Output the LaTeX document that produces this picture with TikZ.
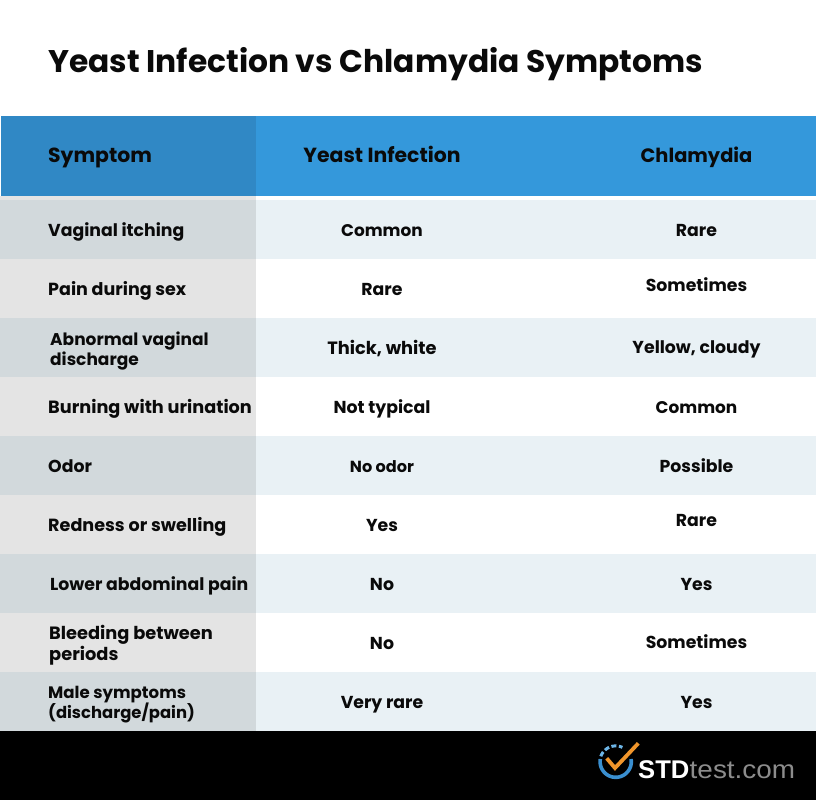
\documentclass[tikz,border=0pt]{standalone}
\usepackage{fontspec}
\setmainfont{Poppins}
\newfontfamily\logofont{Liberation Sans}
\definecolor{hdrA}{HTML}{3498DB}
\definecolor{hdrB}{HTML}{3088C5}
\definecolor{rowA}{HTML}{E9F1F5}
\definecolor{leftA}{HTML}{D2D9DC}
\definecolor{leftB}{HTML}{E4E4E4}
\definecolor{inkc}{HTML}{0A0A0A}
\definecolor{logoB}{HTML}{3A8FD0}
\definecolor{logoL}{HTML}{6DB5E6}
\definecolor{logoO}{HTML}{F0952B}
\newcommand{\sz}[1]{\fontsize{#1}{20}\selectfont\bfseries}
\tikzset{
 x=1pt,y=-1pt,
 cell/.style={font=\sz{17.3},text=inkc,inner sep=0pt},
 lab/.style={cell,anchor=base west,align=left},
 val/.style={cell,anchor=base,align=center},
 head/.style={font=\sz{20.4},text=inkc,inner sep=0pt,anchor=base}
}
\begin{document}
\begin{tikzpicture}
\useasboundingbox (0,0) rectangle (816,800);
\fill[white] (0,0) rectangle (816,800);
\node[anchor=base west,inner sep=0pt,text=inkc,font=\sz{31.3}] (title) at (48,72) {Yeast Infection vs Chlamydia Symptoms};
% header
\fill[hdrA] (1,116) rectangle (816,196);
\fill[hdrB] (1,116) rectangle (256,196);
\fill[leftB] (0,196) rectangle (256,200);
% rows
\foreach \t/\c/\l in {200/rowA/leftA,318/rowA/leftA,436/rowA/leftA,554/rowA/leftA,672/rowA/leftA}{
 \pgfmathsetmacro\b{\t+59}
 \fill[\c] (256,\t) rectangle (816,\b);
 \fill[\l] (0,\t) rectangle (256,\b);
}
\foreach \t in {259,377,495,613}{
 \pgfmathsetmacro\b{\t+59}
 \fill[leftB] (0,\t) rectangle (256,\b);
}
\fill[black] (0,731) rectangle (816,800);
% headers
\node[head,anchor=base west] (h1) at (48,162) {Symptom};
\node[head] (h2) at (382,162) {Yeast Infection};
\node[head,font=\sz{19.4}] (h3) at (696.5,162) {Chlamydia};
% labels
\node[lab] (a1) at (48,236) {Vaginal itching};
\node[lab,font=\sz{17.5}] (a2) at (48,295) {Pain during sex};
\node[lab,font=\sz{17.0}] (a3a) at (50,345) {Abnormal vaginal};
\node[lab,font=\sz{17.0}] (a3b) at (50,365) {discharge};
\node[lab,font=\sz{17.7}] (a4) at (48,413) {Burning with urination};
\node[lab] (a5) at (48,472) {Odor};
\node[lab,font=\sz{17.6}] (a6) at (48,531) {Redness or swelling};
\node[lab] (a7) at (50,590) {Lower abdominal pain};
\node[lab,font=\sz{17.8}] (a8a) at (49,639) {Bleeding between};
\node[lab,font=\sz{17.8}] (a8b) at (49,660) {periods};
\node[lab,font=\sz{16.6}] (a9a) at (48,698) {Male symptoms};
\node[lab,font=\sz{16.4}] (a9b) at (48,718) {(discharge/pain)};
% yeast
\node[val,font=\sz{16.9}] (b1) at (382,236) {Common};
\node[val] (b2) at (382,295) {Rare};
\node[val,font=\sz{17.8}] (b3) at (382,354) {Thick, white};
\node[val] (b4) at (382,413) {Not typical};
\node[val,font=\sz{16.1}] (b5) at (382,472) {No odor};
\node[val] (b6) at (382,531) {Yes};
\node[val] (b7) at (382,590) {No};
\node[val] (b8) at (382,649) {No};
\node[val] (b9) at (382,708) {Very rare};
% chlamydia
\node[val] (c1) at (696.5,236) {Rare};
\node[val] (c2) at (696.5,291) {Sometimes};
\node[val] (c3) at (696.5,353) {Yellow, cloudy};
\node[val,font=\sz{16.9}] (c4) at (696.5,413) {Common};
\node[val] (c5) at (696.5,472) {Possible};
\node[val] (c6) at (696.5,526) {Rare};
\node[val] (c7) at (696.5,590) {Yes};
\node[val] (c8) at (696.5,648) {Sometimes};
\node[val] (c9) at (696.5,708) {Yes};
% logo
\draw[logoB,line width=3.6] plot[smooth,domain=-10:190,samples=40] ({615.7+15.6*cos(\x)},{761.7+15.6*sin(\x)});
\draw[logoL,line width=3,dash pattern=on 5 off 2.5] plot[smooth,domain=200:295,samples=30] ({615.7+15.8*cos(\x)},{761.7+15.8*sin(\x)});
\draw[logoO,line width=3.8,line join=miter] (606.7,758.3) -- (615,768) -- (638.3,743.3);
\node[anchor=base west,inner sep=0pt,text=white,font=\logofont\fontsize{25.6}{26}\selectfont\bfseries] (s) at (638,778.3) {STD};
\node[anchor=base west,inner sep=0pt,text=white!55!black,xscale=1.09,font=\logofont\fontsize{25.6}{26}\selectfont] (t) at (689.5,778.3) {test.com};
\end{tikzpicture}
\end{document}
